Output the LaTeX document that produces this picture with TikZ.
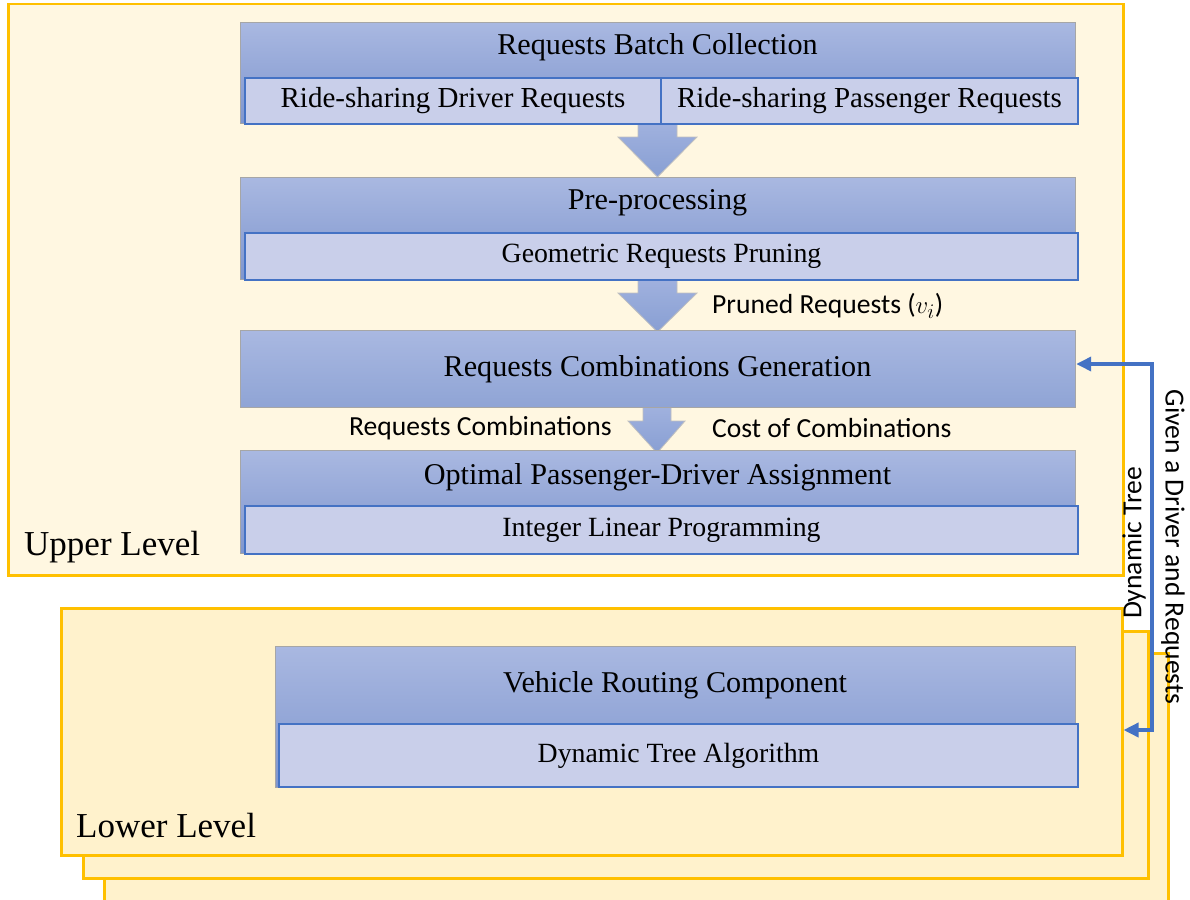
\documentclass[tikz,border=0pt]{standalone}
\usepackage{fontspec}
\setmainfont{Liberation Serif}
\newfontfamily\calibrifont{Carlito}
\usetikzlibrary{arrows.meta}
\definecolor{upfill}{HTML}{FFF7E1}
\definecolor{lowfill}{HTML}{FFF2CC}
\definecolor{gold}{HTML}{FFC000}
\definecolor{hdtop}{HTML}{A9B8E1}
\definecolor{hdbot}{HTML}{8FA4D5}
\definecolor{hddeep}{HTML}{7F96CE}
\definecolor{artop}{HTML}{A0B1DE}
\definecolor{arbot}{HTML}{889FD3}
\definecolor{subfill}{HTML}{C9CFEA}
\definecolor{subline}{HTML}{4472C4}
\tikzset{
  levelbox/.style={draw=gold, fill=lowfill, line width=2.5pt, inner sep=0pt, anchor=north west},
  hdr/.style={draw=black!35, line width=1.2pt, top color=hdtop, bottom color=hdbot, inner sep=0pt, anchor=north west},
  hdrtall/.style={hdr, bottom color=hddeep},
  subbox/.style={draw=subline, line width=2pt, fill=subfill, inner sep=0pt, anchor=north west},
  barrow/.style={draw=black!25, line width=0.8pt, top color=artop, bottom color=arbot},
  htext/.style={font=\fontsize{30.2}{35}\selectfont, inner sep=0pt},
  stext/.style={font=\fontsize{27.8}{32}\selectfont},
  stextbig/.style={font=\fontsize{29}{33}\selectfont},
  lab/.style={font=\calibrifont\fontsize{27.6}{32}\selectfont, inner sep=0pt},
  lvl/.style={font=\fontsize{35}{40}\selectfont, inner sep=0pt, anchor=west},
  conn/.style={draw=subline, line width=3.5pt,
    {Triangle[length=15pt,width=14pt]}-{Triangle[length=15pt,width=14pt]}}
}
\begin{document}
\begin{tikzpicture}[x=1pt,y=-1pt]
\useasboundingbox (0,0) rectangle (1190,899);
% level boxes
\node[levelbox, minimum width=1064pt, minimum height=260pt] (low3) at (103,652) {};
\node[levelbox, minimum width=1065pt, minimum height=247pt] (low2) at (82,630) {};
\node[levelbox, minimum width=1061pt, minimum height=247pt] (low1) at (60,607) {};
\node[levelbox, fill=upfill, minimum width=1115pt, minimum height=571pt] (up) at (7,3) {};
% block arrows
\path[barrow] (638,123) -- (677,123) -- (677,137) -- (697,137) -- (657.5,177) -- (618,137) -- (638,137) -- cycle;
\path[barrow] (638,279) -- (677,279) -- (677,293) -- (697,293) -- (657.5,332) -- (618,293) -- (638,293) -- cycle;
\path[barrow] (643,407) -- (671,407) -- (671,421) -- (685,421) -- (657,453) -- (628,421) -- (643,421) -- cycle;
% blocks
\node[hdrtall, minimum width=835pt, minimum height=101pt] (b1) at (240,22) {};
\node[htext] (b1t) at (657.5,47) {Requests Batch Collection};
\node[subbox, stextbig, minimum width=416pt, minimum height=46pt] (b1a) at (244,77) {Ride-sharing Driver Requests};
\node[subbox, stextbig, minimum width=417pt, minimum height=46pt] (b1b) at (660,77) {Ride-sharing Passenger Requests};

\node[hdrtall, minimum width=835pt, minimum height=102pt] (b2) at (240,177) {};
\node[htext] (b2t) at (657.5,203) {Pre-processing};
\node[subbox, stext, minimum width=833pt, minimum height=47pt] (b2a) at (244,232) {Geometric Requests Pruning};

\node[hdr, minimum width=835pt, minimum height=77pt] (b3) at (240,330) {};
\node[htext] (b3t) at (657.5,369) {Requests Combinations Generation};

\node[hdrtall, minimum width=835pt, minimum height=103pt] (b4) at (240,450) {};
\node[htext] (b4t) at (657.5,477) {Optimal Passenger-Driver Assignment};
\node[subbox, stext, minimum width=833pt, minimum height=48pt] (b4a) at (244,505) {Integer Linear Programming};

\node[hdrtall, minimum width=800pt, minimum height=141pt] (b5) at (275,646) {};
\node[htext] (b5t) at (675,685) {Vehicle Routing Component};
\node[subbox, stext, minimum width=799pt, minimum height=63pt] (b5a) at (278,723) {Dynamic Tree Algorithm};

% labels
\node[lab, anchor=west] (l1) at (712,306) {Pruned Requests ($v_i$)};
\node[lab, anchor=east] (l2) at (612,428) {Requests Combinations};
\node[lab, anchor=west] (l3) at (712,428) {Cost of Combinations};
\node[lvl] (upl) at (24,547) {Upper Level};
\node[lvl] (lowl) at (76,826) {Lower Level};
\node[lab, rotate=-90] (given) at (1173,547) {Given a Driver and Requests};
\node[lab, rotate=90] (dyn) at (1134,543) {Dynamic Tree};
% connector
\coordinate (cT) at (1152,364);
\coordinate (cB) at (1152,730);
\draw[conn] (low1.east |- cB) -- (cB) -- (cT) -- (b3.east |- cT);
\end{tikzpicture}
\end{document}
